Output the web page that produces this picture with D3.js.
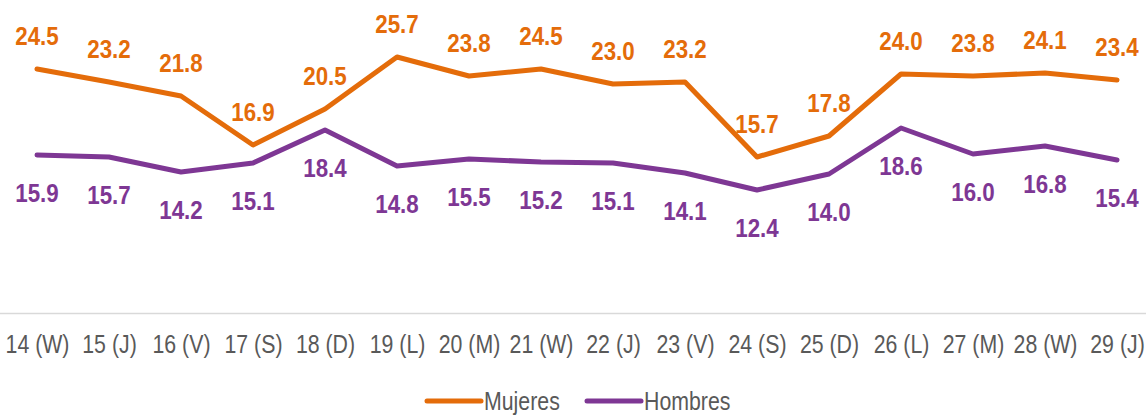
<!DOCTYPE html>
<html>
<head>
<meta charset="utf-8">
<script src="https://cdn.jsdelivr.net/npm/d3@7"></script>
<style>
  body { margin: 0; background: #fff; }
  svg { display: block; font-family: "Liberation Sans", Arial, sans-serif; }
</style>
</head>
<body>
<script>
// categories (day + weekday letter)
var dias = ["14 (W)", "15 (J)", "16 (V)", "17 (S)", "18 (D)", "19 (L)", "20 (M)", "21 (W)",
            "22 (J)", "23 (V)", "24 (S)", "25 (D)", "26 (L)", "27 (M)", "28 (W)", "29 (J)"];
var mujeres = [24.5, 23.2, 21.8, 16.9, 20.5, 25.7, 23.8, 24.5, 23.0, 23.2, 15.7, 17.8, 24.0, 23.8, 24.1, 23.4];
var hombres = [15.9, 15.7, 14.2, 15.1, 18.4, 14.8, 15.5, 15.2, 15.1, 14.1, 12.4, 14.0, 18.6, 16.0, 16.8, 15.4];

var W = 1146, H = 415;
var naranja = "#E46C0A", morado = "#7E3794";
// no narrow font installed, so squeeze the sans horizontally
var narrow = 0.82, narrowBold = 0.86;

var svg = d3.select("body").append("svg")
    .attr("width", W)
    .attr("height", H);

var x = d3.scalePoint().domain(dias).range([37, 1117]);
var y = d3.scaleLinear().domain([0, 30]).range([314, 14]);

// category axis
var xAxis = svg.append("g")
    .attr("transform", "translate(0,313)")
    .call(d3.axisBottom(x).tickSize(0).tickPadding(0));
xAxis.select(".domain").remove();
svg.append("line")
    .attr("x1", 0).attr("x2", W)
    .attr("y1", 313.5).attr("y2", 313.5)
    .attr("stroke", "#d9d9d9")
    .attr("stroke-width", 1.5);
xAxis.selectAll("text")
    .attr("y", 0)
    .attr("dy", 0)
    .attr("transform", "translate(0,40) scale(" + narrow + ",1)")
    .style("font-family", "\"Liberation Sans\", Arial, sans-serif")
    .style("font-size", "26px")
    .attr("fill", "#595959");

var series = [
    { name: "Mujeres", values: mujeres, color: naranja, off: -24 },
    { name: "Hombres", values: hombres, color: morado, off: 47 }
];

var line = d3.line()
    .x(function (d, i) { return x(dias[i]); })
    .y(function (d) { return y(d); });

series.forEach(function (s) {
    svg.append("path")
        .datum(s.values)
        .attr("d", line)
        .attr("fill", "none")
        .attr("stroke", s.color)
        .attr("stroke-width", 5)
        .attr("stroke-linejoin", "round")
        .attr("stroke-linecap", "round");

    svg.append("g").selectAll("text")
        .data(s.values)
        .enter().append("text")
        .attr("transform", function (d, i) {
            return "translate(" + x(dias[i]) + "," + (y(d) + s.off) + ") scale(" + narrowBold + ",1)";
        })
        .attr("text-anchor", "middle")
        .attr("fill", s.color)
        .style("font-size", "26px")
        .style("font-weight", "bold")
        .text(function (d) { return d.toFixed(1); });
});

// legend
var legend = svg.append("g").attr("transform", "translate(0,401)");
var legX = [427, 587];
series.forEach(function (s, i) {
    legend.append("line")
        .attr("x1", legX[i]).attr("x2", legX[i] + 54)
        .attr("y1", 0).attr("y2", 0)
        .attr("stroke", s.color)
        .attr("stroke-width", 5)
        .attr("stroke-linecap", "round");
    legend.append("text")
        .attr("transform", "translate(" + (legX[i] + 57) + ",9) scale(" + narrow + ",1)")
        .attr("fill", "#595959")
        .style("font-size", "26px")
        .text(s.name);
});
</script>
</body>
</html>
